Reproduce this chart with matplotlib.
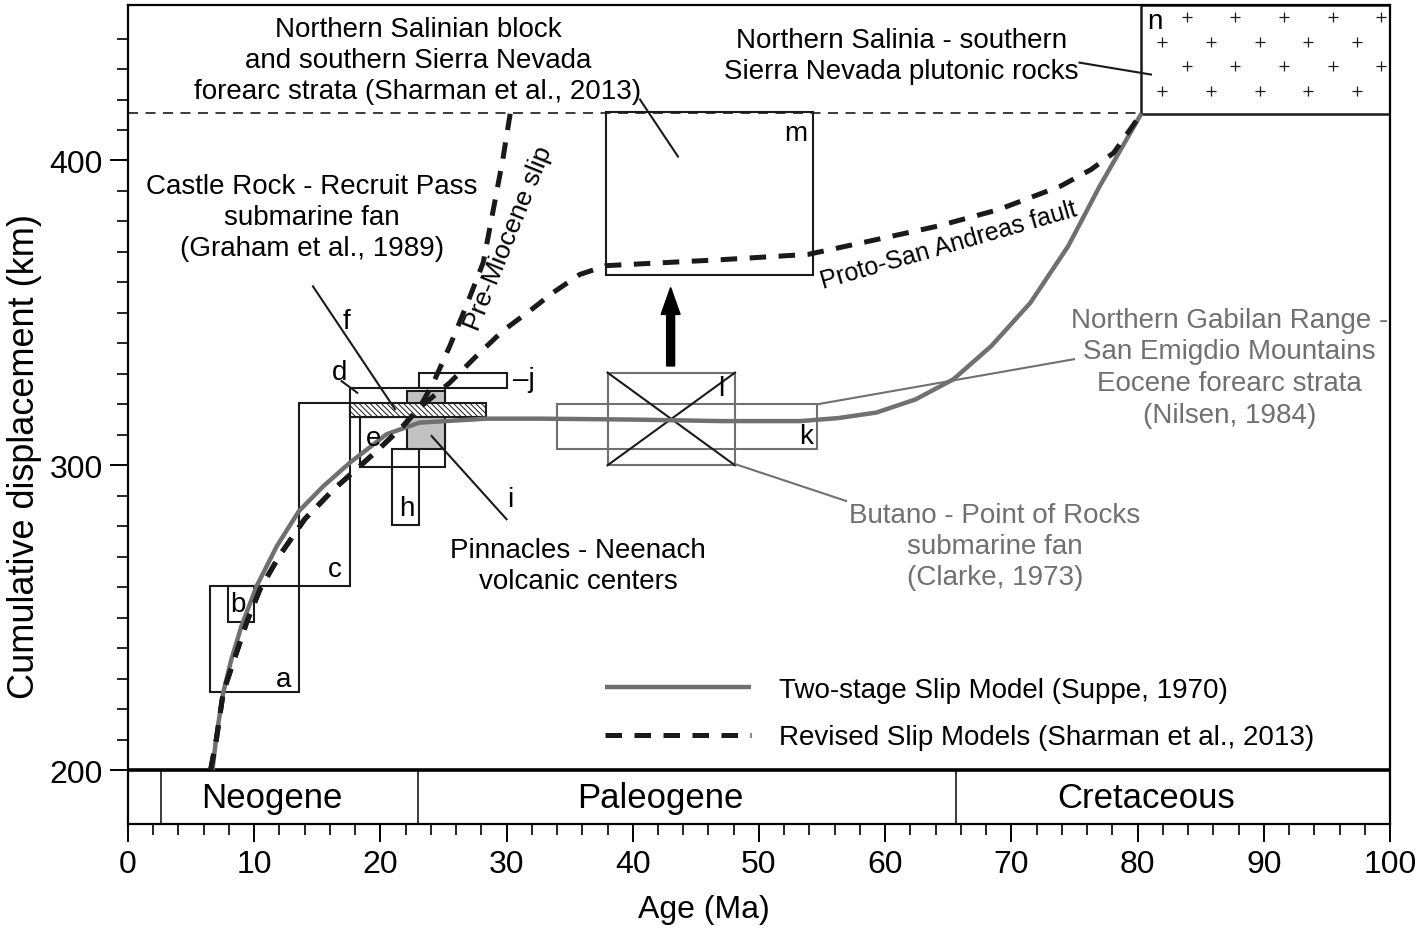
import numpy as np
import matplotlib.pyplot as plt
from matplotlib.patches import Rectangle, FancyArrow

plt.rcParams['font.family'] = ['Liberation Sans', 'DejaVu Sans']
plt.rcParams['hatch.linewidth'] = 0.7

GREY = '#707070'
DARK = '#1a1a1a'

# two-stage slip model (Suppe, 1970)
suppe_age = [6.7, 7.0, 7.55, 8.2, 9.0, 10.2, 11.8, 13.55, 15.5, 17.6, 20.5, 23.1,
             28.4, 32.6, 40.0, 47.0, 53.3, 56.3, 59.3, 62.4, 65.4, 68.4, 71.5, 74.5, 77.0, 80.3]
suppe_disp = [200, 211, 225.5, 236.4, 247.3, 260.4, 273.5, 285.0, 293.2, 300.9, 310.2, 314.0,
              315.3, 315.3, 315.0, 314.5, 314.5, 315.5, 317.3, 321.6, 328.2, 339.1, 353.3, 371.9,
              391.6, 415.4]

# revised slip models (Sharman et al., 2013) - common trunk
rev_age = [6.55, 7.03, 7.55, 9.4, 10.46, 12.0, 14.0, 16.3, 18.4, 20.0, 21.8, 23.1]
rev_disp = [200, 210.7, 225.5, 248.4, 259.3, 270.3, 282.3, 292.1, 299.8, 305.8, 312.9, 318.9]
# pre-Miocene slip branch
pm_age = [24.2, 25.5, 26.8, 28.15, 28.9, 29.7, 30.3]
pm_disp = [327.1, 339.1, 352.2, 366.5, 382.8, 400.3, 415.7]
# proto-San Andreas fault branch
psa_age = [25.5, 27.6, 29.7, 31.85, 33.7, 35.8, 37.9, 47.2, 53.9, 58.7, 64.2, 69.0,
           73.9, 76.3, 78.1, 80.3]
psa_disp = [327.1, 335.8, 344.1, 350.7, 356.7, 362.6, 365.5, 367.5, 369.2, 373.5, 378.5,
            383.9, 391.6, 397.0, 402.5, 415.4]

# constraint boxes: age range, displacement range
box_names = ['a', 'b', 'c', 'd', 'e', 'h', 'j', 'm']
box_age0 = [6.5, 7.9, 13.55, 17.6, 18.4, 20.9, 23.1, 37.9]
box_age1 = [13.55, 10.0, 17.6, 25.1, 25.1, 23.05, 30.0, 54.25]
box_disp0 = [225.5, 248.5, 260.4, 315.7, 299.3, 280.3, 325.4, 362.3]
box_disp1 = [260.4, 260.4, 320.6, 325.2, 315.7, 305.2, 330.4, 415.8]

grey_names = ['k', 'l']
grey_age0 = [34.0, 38.0]
grey_age1 = [54.6, 48.1]
grey_disp0 = [305.2, 300.0]
grey_disp1 = [320.2, 330.4]

# f (hatched) and i (shaded)
f_age = [17.6, 28.4]
f_disp = [316.0, 320.6]
i_age = [22.1, 25.1]
i_disp = [305.2, 324.3]

# n: plutonic rocks
n_age = [80.3, 100.0]
n_disp = [415.4, 451.0]
cross_rows = [447.1, 438.9, 430.9, 422.9]
cross_x_odd = [83.9, 87.7, 91.6, 95.5, 99.3]
cross_x_even = [81.9, 85.8, 89.7, 93.5, 97.4]

salinian_level = 415.7

periods = ['Neogene', 'Paleogene', 'Cretaceous']
period_bounds = [2.6, 23.0, 65.6]
period_label_x = [11.4, 42.2, 80.7]

fig = plt.figure(figsize=(14.28, 9.29), dpi=100)
ax = fig.add_axes([0.0896, 0.1119, 0.8838, 0.8816])
ax.set_xlim(0, 100)
ax.set_ylim(182.3, 451)

# boxes
for i_ in range(len(box_names)):
    ax.add_patch(Rectangle((box_age0[i_], box_disp0[i_]), box_age1[i_] - box_age0[i_],
                           box_disp1[i_] - box_disp0[i_], fill=False, ec=DARK, lw=1.5, zorder=2))
for i_ in range(len(grey_names)):
    ax.add_patch(Rectangle((grey_age0[i_], grey_disp0[i_]), grey_age1[i_] - grey_age0[i_],
                           grey_disp1[i_] - grey_disp0[i_], fill=False, ec=GREY, lw=1.5, zorder=2))
# X across box l
ax.plot([grey_age0[1], grey_age1[1]], [grey_disp0[1], grey_disp1[1]], color=DARK, lw=1.5, zorder=2)
ax.plot([grey_age0[1], grey_age1[1]], [grey_disp1[1], grey_disp0[1]], color=DARK, lw=1.5, zorder=2)

ax.add_patch(Rectangle((i_age[0], i_disp[0]), i_age[1] - i_age[0], i_disp[1] - i_disp[0],
                       fc='#c2c2c2', ec=DARK, lw=1.5, zorder=2.5))
ax.add_patch(Rectangle((f_age[0], f_disp[0]), f_age[1] - f_age[0], f_disp[1] - f_disp[0],
                       fc='white', ec=DARK, lw=1.5, hatch='\\\\\\\\\\\\', zorder=3))

ax.add_patch(Rectangle((n_age[0], n_disp[0]), n_age[1] - n_age[0], n_disp[1] - n_disp[0],
                       fill=False, ec=DARK, lw=1.8, zorder=2))
for k, yr in enumerate(cross_rows):
    xs = cross_x_odd if k % 2 == 0 else cross_x_even
    ax.plot(xs, [yr] * len(xs), ls='none', marker='+', ms=7.5, mew=0.9, color=DARK, zorder=2)

ax.plot([0, n_age[0]], [salinian_level, salinian_level], color=DARK, lw=1.2,
        ls=(0, (6, 4.5)), zorder=2)

# slip curves
ax.plot(suppe_age, suppe_disp, color=GREY, lw=3.2, zorder=5, solid_joinstyle='round',
        label='Two-stage Slip Model (Suppe, 1970)', solid_capstyle='butt')
ax.plot(rev_age + pm_age, rev_disp + pm_disp, color=DARK, lw=3.6, ls=(0, (3.3, 2.5)), zorder=6)
ax.plot(rev_age + psa_age, rev_disp + psa_disp, color=DARK, lw=3.6, ls=(0, (3.3, 2.5)), zorder=6,
        label='Revised Slip Models (Sharman et al., 2013)')

ax.add_patch(FancyArrow(43.0, 332.6, 0, 25.7, width=0.63, head_width=1.5, head_length=8.8,
                        length_includes_head=True, color='black', zorder=6))

# letters
fs = 20
letters = {'a': (12.32, 229.8), 'b': (8.74, 254.4), 'c': (16.4, 265.9), 'd': (16.8, 330.6),
           'e': (19.44, 309.1), 'f': (17.3, 347.2), 'h': (22.08, 286.1), 'i': (30.27, 288.9),
           '\u2013j': (31.4, 328.2), 'k': (53.7, 309.6), 'l': (47.04, 325.5), 'm': (52.93, 409.1),
           'n': (81.38, 445.7)}
for t, (x, y) in letters.items():
    ax.text(x, y, t, fontsize=fs, ha='center', va='center', zorder=7)

# leader lines
leaders = [((40.57, 420.0), (43.58, 401.3), DARK),
           ((14.66, 358.7), (21.16, 318.4), DARK),
           ((16.93, 327.6), (18.17, 323.8), DARK),
           ((24.06, 309.6), (30.0, 282.3), DARK),
           ((48.18, 300.3), (56.9, 288.3), GREY),
           ((54.6, 320.0), (74.96, 334.8), GREY),
           ((75.4, 432.1), (81.06, 428.2), DARK)]
for p0, p1, c in leaders:
    ax.plot([p0[0], p1[0]], [p0[1], p1[1]], color=c, lw=1.5, zorder=4)

# annotations
ls_ = 1.25
ax.text(22.98, 433.1, 'Northern Salinian block\nand southern Sierra Nevada\nforearc strata (Sharman et al., 2013)',
        fontsize=fs, ha='center', va='center', linespacing=ls_)
ax.text(14.58, 381.3, 'Castle Rock - Recruit Pass\nsubmarine fan\n(Graham et al., 1989)',
        fontsize=fs, ha='center', va='center', linespacing=ls_)
ax.text(35.66, 267.0, 'Pinnacles - Neenach\nvolcanic centers',
        fontsize=fs, ha='center', va='center', linespacing=ls_)
ax.text(68.7, 273.4, 'Butano - Point of Rocks\nsubmarine fan\n(Clarke, 1973)',
        fontsize=fs, ha='center', va='center', linespacing=ls_, color=GREY)
ax.text(87.3, 332.2, 'Northern Gabilan Range -\nSan Emigdio Mountains\nEocene forearc strata\n(Nilsen, 1984)',
        fontsize=fs, ha='center', va='center', linespacing=1.28, color=GREY)
ax.text(61.3, 434.3, 'Northern Salinia - southern\nSierra Nevada plutonic rocks',
        fontsize=fs, ha='center', va='center', linespacing=ls_)
ax.text(30.15, 374.6, 'Pre-Miocene slip', fontsize=19, rotation=68, ha='center', va='center',
        rotation_mode='anchor')
ax.text(65.05, 372.5, 'Proto-San Andreas fault', fontsize=18, rotation=16.0, ha='center',
        va='center', rotation_mode='anchor')

# period bar
ax.axhline(200, color='black', lw=2.6, zorder=4)
ax.vlines(period_bounds, 182.3, 200, color=DARK, lw=1.2)
for name, x in zip(periods, period_label_x):
    ax.text(x, 191.0, name, fontsize=25, ha='center', va='center')

# axes styling
for s in ax.spines.values():
    s.set_linewidth(1.6)
ax.set_xticks(range(0, 101, 10))
ax.set_xticks(np.arange(0, 101, 2), minor=True)
ax.set_yticks([200, 300, 400])
ax.set_yticks(np.arange(200, 441, 10), minor=True)
ax.tick_params(which='major', direction='out', length=13, width=1.4, labelsize=23, pad=5)
ax.tick_params(which='minor', direction='out', length=8, width=1.2)

ax.set_xlabel('Age (Ma)', fontsize=23)
ax.xaxis.set_label_coords(0.456, -0.085)
ax.set_ylabel('Cumulative displacement (km)', fontsize=26)
ax.yaxis.set_label_coords(-0.068, 0.45)

ax.legend(loc='upper left', bbox_to_anchor=(0.378, 0.18), frameon=False, fontsize=fs,
          handlelength=5.25, handletextpad=1.0, labelspacing=0.78, borderpad=0, borderaxespad=0)

fig.savefig('out.png', dpi=100)
